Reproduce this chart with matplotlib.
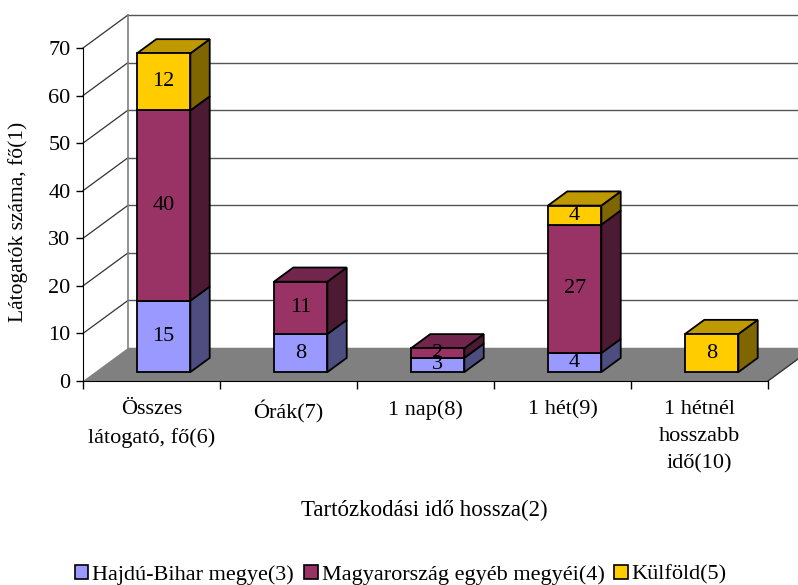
import matplotlib
matplotlib.use("Agg")
import matplotlib.pyplot as plt
from matplotlib.patches import Polygon, Rectangle, Patch

# ---- data ----
categories = ["Összes\nlátogató, fő(6)", "Órák(7)", "1 nap(8)", "1 hét(9)",
              "1 hétnél\nhosszabb\nidő(10)"]
series_names = ["Hajdú-Bihar megye(3)", "Magyarország egyéb megyéi(4)", "Külföld(5)"]
hajdu = [15, 8, 3, 4, 0]
egyeb = [40, 11, 2, 27, 0]
kulfold = [12, 0, 0, 4, 8]
y_ticks = [0, 10, 20, 30, 40, 50, 60, 70]
x_title = "Tartózkodási idő hossza(2)"
y_title = "Látogatók száma, fő(1)"

series = [hajdu, egyeb, kulfold]
front_cols = ["#9999FF", "#993366", "#FFCC00"]
side_cols = ["#4D4D80", "#4D1A33", "#806600"]
top_cols = ["#7373BF", "#73264D", "#BF9900"]

FONT = "Liberation Serif"
FS = 16

W, H = 798, 585
fig = plt.figure(figsize=(W / 100, H / 100), dpi=100)
ax = fig.add_axes([83 / W, 1 - 381 / H, 685 / W, (381 - 48) / H])
ax.set_xlim(0, len(categories))
ax.set_ylim(0, 70)
ax.patch.set_alpha(0)

# depth projection in data units
DX = 45 / 137
DY = 33 / (333 / 70)
N = len(categories)

# floor
ax.add_patch(Polygon([(0, 0), (N, 0), (N + DX, DY), (DX, DY)], closed=True,
                     facecolor="#808080", edgecolor="none", zorder=1, clip_on=False))
ax.plot([N, N + DX], [0, DY], color="#333333", lw=1, zorder=2, clip_on=False)

# back wall gridlines and left wall lines
for v in y_ticks:
    ax.plot([DX, N + DX], [v + DY, v + DY], color="#555555", lw=1, zorder=0.5, clip_on=False)
    if v > 0:
        ax.plot([0, DX], [v, v + DY], color="#333333", lw=0.9, zorder=0.5, clip_on=False)
ax.plot([DX, DX], [DY, 70 + DY], color="#808080", lw=1.2, zorder=0.5, clip_on=False)

# bars
BW = 0.39
F = 0.27
D = 0.43
for i in range(N):
    x0 = i + 0.5 - BW / 2 + F * DX
    x1 = x0 + BW
    base = F * DY
    cum = 0
    nonzero = [k for k in range(len(series)) if series[k][i] > 0]
    for k in range(len(series)):
        val = series[k][i]
        if val <= 0:
            continue
        yb = base + cum
        yt = base + cum + val
        ax.add_patch(Rectangle((x0, yb), BW, val, facecolor=front_cols[k],
                               edgecolor="black", lw=1.3, zorder=5, clip_on=False))
        ax.add_patch(Polygon([(x1, yb), (x1 + D * DX, yb + D * DY),
                              (x1 + D * DX, yt + D * DY), (x1, yt)], closed=True,
                             facecolor=side_cols[k], edgecolor="black", lw=1.3,
                             zorder=4, clip_on=False))
        if k == nonzero[-1]:
            ax.add_patch(Polygon([(x0, yt), (x1, yt), (x1 + D * DX, yt + D * DY),
                                  (x0 + D * DX, yt + D * DY)], closed=True,
                                 facecolor=top_cols[k], edgecolor="black", lw=1.3,
                                 zorder=4, clip_on=False))
        ax.text(x0 + BW / 2, (yb + yt) / 2, str(val), ha="center", va="center",
                fontsize=FS, family=FONT, zorder=6)
        cum += val

# axes styling
for s in ["top", "right"]:
    ax.spines[s].set_visible(False)
ax.spines["left"].set_color("black")
ax.spines["bottom"].set_color("black")
ax.spines["left"].set_zorder(3)
ax.spines["bottom"].set_zorder(3)
ax.set_yticks(y_ticks)
ax.set_yticklabels([str(v) for v in y_ticks], fontsize=FS, family=FONT)
ax.tick_params(axis="y", length=5, width=1, pad=4)
ax.set_xticks(range(N + 1))
ax.set_xticklabels([""] * (N + 1))
ax.tick_params(axis="x", which="major", length=6, width=1)
ax.set_xticks([i + 0.5 for i in range(N)], minor=True)
ax.set_xticklabels(categories, minor=True, fontsize=FS, family=FONT,
                   linespacing=1.55, va="top")
ax.tick_params(axis="x", which="minor", length=0, pad=14)

fig.text(18 / W, 1 - 222 / H, y_title, rotation=90, ha="center", va="center",
         fontsize=15.5, family=FONT)
fig.text(424 / W, 1 - 510 / H, x_title, ha="center", va="center",
         fontsize=16.5, family=FONT)

handles = [Patch(facecolor=front_cols[k], edgecolor="black", lw=1.2)
           for k in range(len(series))]
fig.legend(handles, series_names, loc="center", bbox_to_anchor=(401 / W, 1 - 575 / H),
           ncol=3, frameon=False, prop={"family": FONT, "size": 16},
           handlelength=0.6, handleheight=0.6, handletextpad=0.18,
           columnspacing=0.45, borderaxespad=0, borderpad=0)

fig.savefig("out.png", dpi=100)
